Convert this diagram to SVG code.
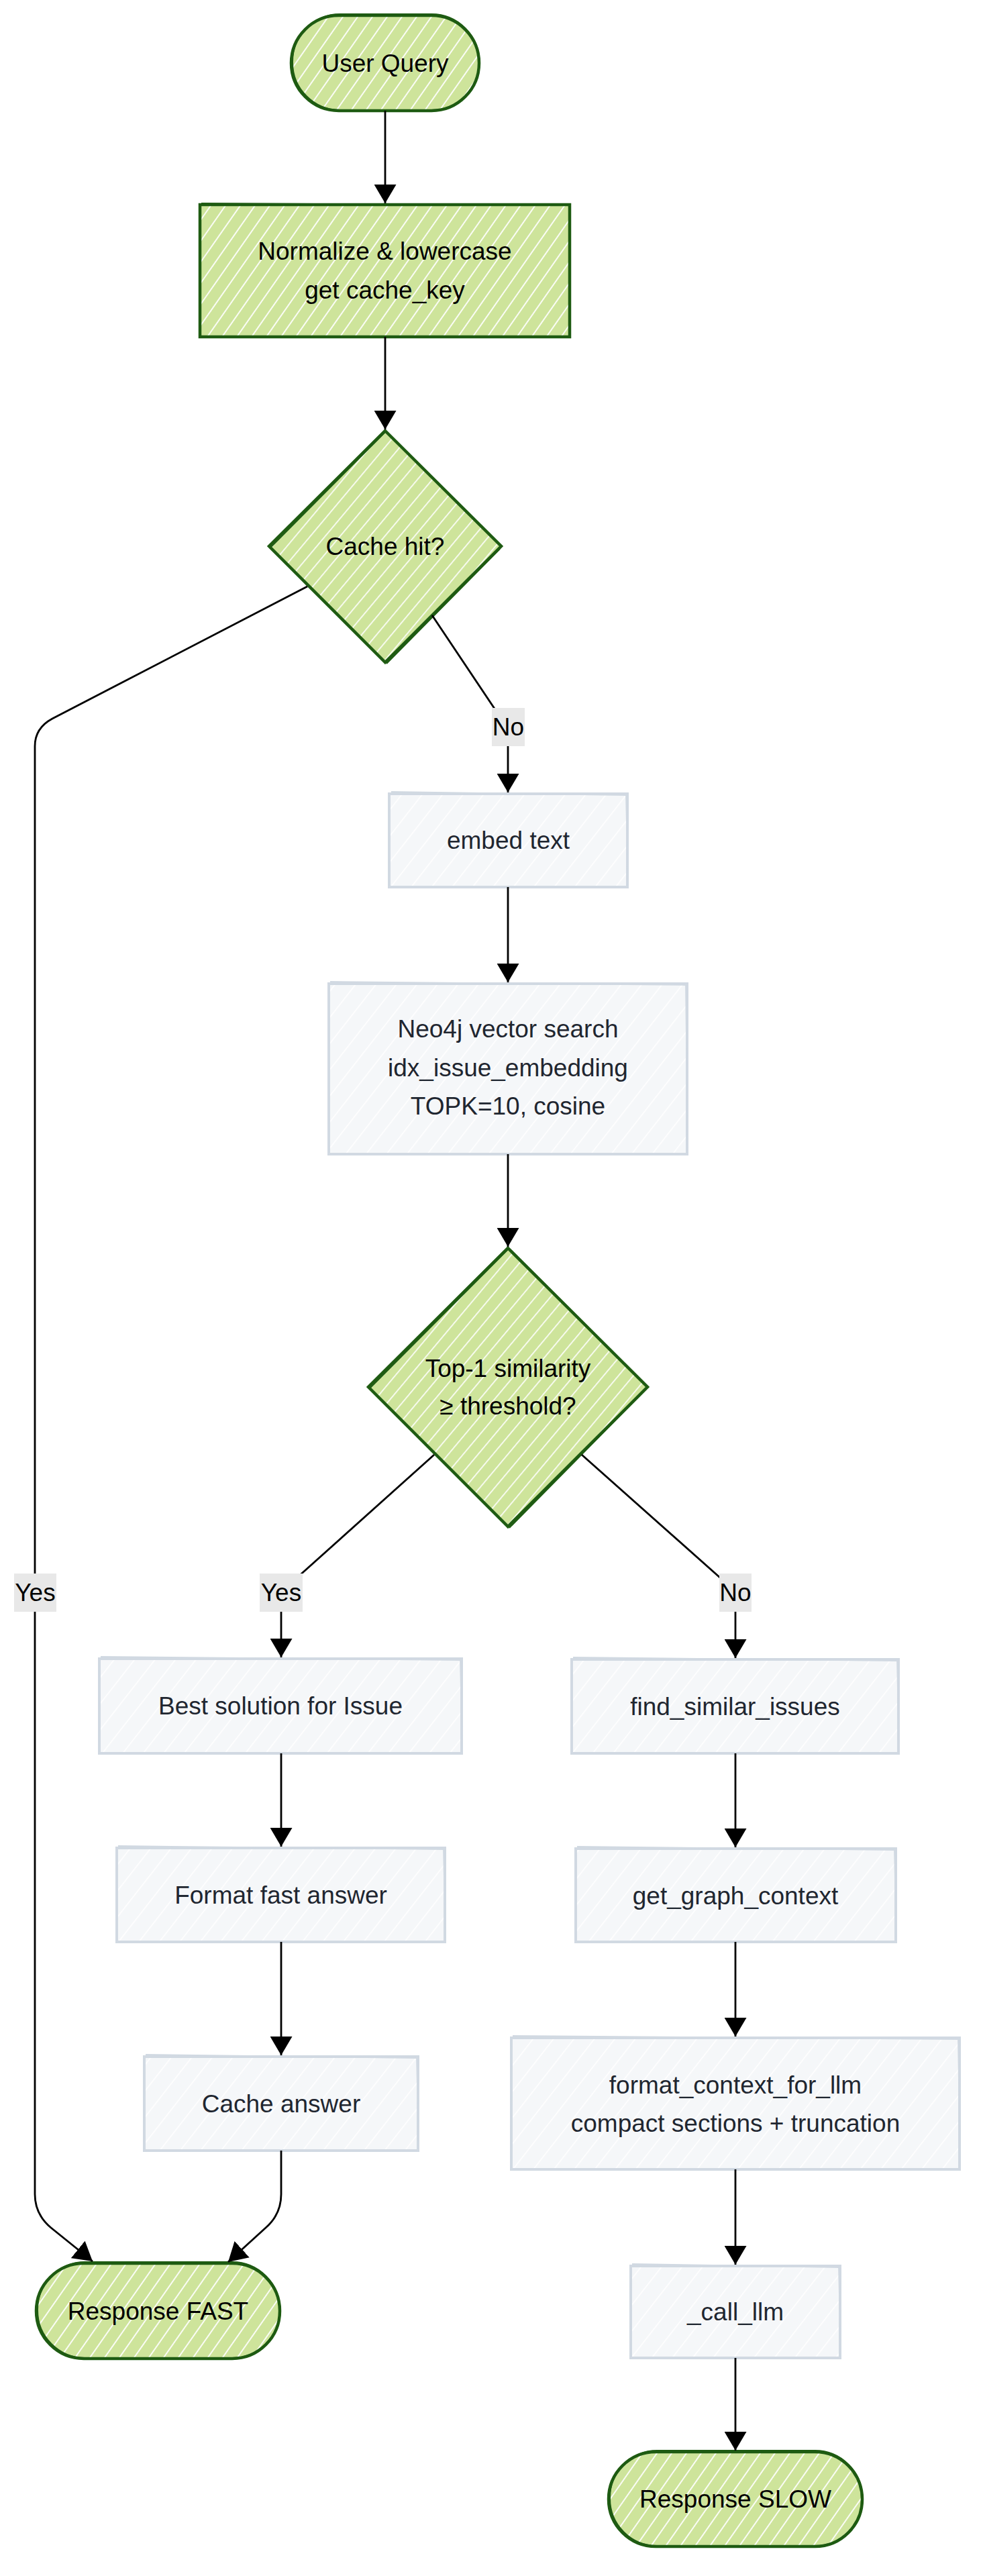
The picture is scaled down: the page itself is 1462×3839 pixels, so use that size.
<svg xmlns="http://www.w3.org/2000/svg" width="1462" height="3839" viewBox="0 0 1462 3839">
<style>
.t{font-family:"Liberation Sans",Arial,Helvetica,sans-serif;font-size:37px;text-anchor:middle}
.tg{fill:#000000}
.ts{fill:#1f2630}
.green{fill:url(#hGreen);stroke:#1e5b12;stroke-width:4.5}
.greenD{fill:url(#hGreenD);stroke:#1e5b12;stroke-width:4.5}
.green2{fill:none;stroke:#1e5b12;stroke-width:2}
.gray{fill:url(#hGray);stroke:#d1d9e2;stroke-width:4}
.gray2{fill:none;stroke:#d1d9e2;stroke-width:1.8}
.edge{fill:none;stroke:#000000;stroke-width:2.8;marker-end:url(#arr)}
.lbl{fill:#e8e8e8}
</style>
<defs>
<pattern id="hGreen" patternUnits="userSpaceOnUse" width="18" height="18" patternTransform="rotate(35)">
<rect width="18" height="18" fill="#cee49b"/>
<rect x="0" y="0" width="2" height="18" fill="#ffffff" opacity="0.9"/>
</pattern>
<pattern id="hGreenD" patternUnits="userSpaceOnUse" width="17" height="17" patternTransform="rotate(40)">
<rect width="17" height="17" fill="#cee49b"/>
<rect x="0" y="0" width="1.8" height="17" fill="#ffffff" opacity="0.9"/>
</pattern>
<pattern id="hGray" patternUnits="userSpaceOnUse" width="24" height="24" patternTransform="rotate(38)">
<rect width="24" height="24" fill="#f5f7f9"/>
<rect x="0" y="0" width="1.6" height="24" fill="#ffffff"/>
</pattern>
<marker id="arr" markerUnits="userSpaceOnUse" markerWidth="28" markerHeight="33" viewBox="0 0 28 33" refX="28" refY="16.5" orient="auto">
<path d="M0,0 L28,16.5 L0,33 Z" fill="#000000"/>
</marker>
</defs>

<g id="nodes">
<g id="n_user">
<rect class="green" x="434" y="23" width="280" height="142" rx="71"/>
<rect class="green2" x="436" y="21" width="278" height="143" rx="71"/>
<text class="t tg" x="574" y="107">User Query</text>
</g>
<g id="n_normalize">
<rect class="green" x="298" y="305" width="551" height="197"/>
<path class="green2" d="M300,303 L850,306 L848,500"/>
<text class="t tg" x="573.5" y="387">Normalize &amp; lowercase</text>
<text class="t tg" x="573.5" y="445">get cache_key</text>
</g>
<g id="n_cachehit">
<polygon class="greenD" points="574,642 747,814 574,987 401,814"/>
<path class="green2" d="M574,644 L403,816 M745,818 L576,989"/>
<text class="t tg" x="574" y="827">Cache hit?</text>
</g>
<g id="n_embed">
<rect class="gray" x="580" y="1183" width="355" height="139"/>
<path class="gray2" d="M583,1180 L933,1185 L936,1320"/>
<text class="t ts" x="757.5" y="1265">embed text</text>
</g>
<g id="n_neo4j">
<rect class="gray" x="490" y="1466" width="534" height="254"/>
<path class="gray2" d="M492,1463 L1022,1468 L1025,1718"/>
<text class="t ts" x="757" y="1546">Neo4j vector search</text>
<text class="t ts" x="757" y="1604">idx_issue_embedding</text>
<text class="t ts" x="757" y="1661">TOPK=10, cosine</text>
</g>
<g id="n_similarity">
<polygon class="greenD" points="757,1860 965,2067 757,2275 549,2067"/>
<path class="green2" d="M757,1862 L551,2069 M963,2070 L759,2277"/>
<text class="t tg" x="757" y="2052">Top-1 similarity</text>
<text class="t tg" x="757" y="2108">≥ threshold?</text>
</g>
<g id="n_best">
<rect class="gray" x="148" y="2472" width="540" height="141"/>
<path class="gray2" d="M150,2469 L686,2474 L689,2611"/>
<text class="t ts" x="418" y="2555">Best solution for Issue</text>
</g>
<g id="n_formatfast">
<rect class="gray" x="174" y="2754" width="489" height="140"/>
<path class="gray2" d="M176,2751 L661,2756 L664,2892"/>
<text class="t ts" x="418.5" y="2837">Format fast answer</text>
</g>
<g id="n_cacheanswer">
<rect class="gray" x="215" y="3065" width="408" height="140"/>
<path class="gray2" d="M217,3062 L621,3067 L624,3203"/>
<text class="t ts" x="419" y="3148">Cache answer</text>
</g>
<g id="n_respfast">
<rect class="green" x="54" y="3373" width="363" height="142" rx="71"/>
<rect class="green2" x="56" y="3371" width="361" height="143" rx="71"/>
<text class="t tg" x="235.5" y="3457">Response FAST</text>
</g>
<g id="n_findsimilar">
<rect class="gray" x="852" y="2473" width="487" height="140"/>
<path class="gray2" d="M854,2470 L1337,2475 L1340,2611"/>
<text class="t ts" x="1095.5" y="2556">find_similar_issues</text>
</g>
<g id="n_graphctx">
<rect class="gray" x="858" y="2755" width="477" height="139"/>
<path class="gray2" d="M860,2752 L1333,2757 L1336,2892"/>
<text class="t ts" x="1096" y="2838">get_graph_context</text>
</g>
<g id="n_formatctx">
<rect class="gray" x="762" y="3037" width="668" height="196"/>
<path class="gray2" d="M764,3034 L1428,3039 L1431,3231"/>
<text class="t ts" x="1096" y="3120">format_context_for_llm</text>
<text class="t ts" x="1096" y="3177">compact sections + truncation</text>
</g>
<g id="n_callllm">
<rect class="gray" x="940" y="3377" width="312" height="137"/>
<path class="gray2" d="M942,3374 L1250,3379 L1253,3512"/>
<text class="t ts" x="1096" y="3458">_call_llm</text>
</g>
<g id="n_respslow">
<rect class="green" x="907" y="3654" width="378" height="141" rx="70.5"/>
<rect class="green2" x="909" y="3652" width="376" height="142" rx="70.5"/>
<text class="t tg" x="1096" y="3737">Response SLOW</text>
</g>
</g>

<g id="edges">
<path class="edge" d="M574,165 L574,303"/>
<path class="edge" d="M574,502 L574,640"/>
<path class="edge" d="M458,874 L78,1071 Q52,1085 52,1112 L52,3270 Q52,3300 76,3320 L138,3370"/>
<path class="edge" d="M644,917 L741,1062 Q757,1088 757,1112 L757,1181"/>
<path class="edge" d="M757,1322 L757,1464"/>
<path class="edge" d="M757,1720 L757,1858"/>
<path class="edge" d="M647,2168 L444,2350 Q419,2372 419,2400 L419,2470"/>
<path class="edge" d="M867,2168 L1074,2352 Q1096,2374 1096,2400 L1096,2471"/>
<path class="edge" d="M419,2613 L419,2752"/>
<path class="edge" d="M419,2894 L419,3063"/>
<path class="edge" d="M419,3205 L419,3270 Q419,3300 396,3320 L340,3371"/>
<path class="edge" d="M1096,2613 L1096,2753"/>
<path class="edge" d="M1096,2894 L1096,3035"/>
<path class="edge" d="M1096,3233 L1096,3375"/>
<path class="edge" d="M1096,3514 L1096,3652"/>
</g>

<g id="edge-labels">
<g id="l_no1"><rect class="lbl" x="733" y="1055" width="49" height="57"/><text class="t tg" x="757.5" y="1096">No</text></g>
<g id="l_yesleft"><rect class="lbl" x="21" y="2345" width="63" height="57"/><text class="t tg" x="52.5" y="2386">Yes</text></g>
<g id="l_yesmid"><rect class="lbl" x="387" y="2345" width="64" height="57"/><text class="t tg" x="419" y="2386">Yes</text></g>
<g id="l_no2"><rect class="lbl" x="1072" y="2345" width="48" height="57"/><text class="t tg" x="1096" y="2386">No</text></g>
</g>
</svg>
